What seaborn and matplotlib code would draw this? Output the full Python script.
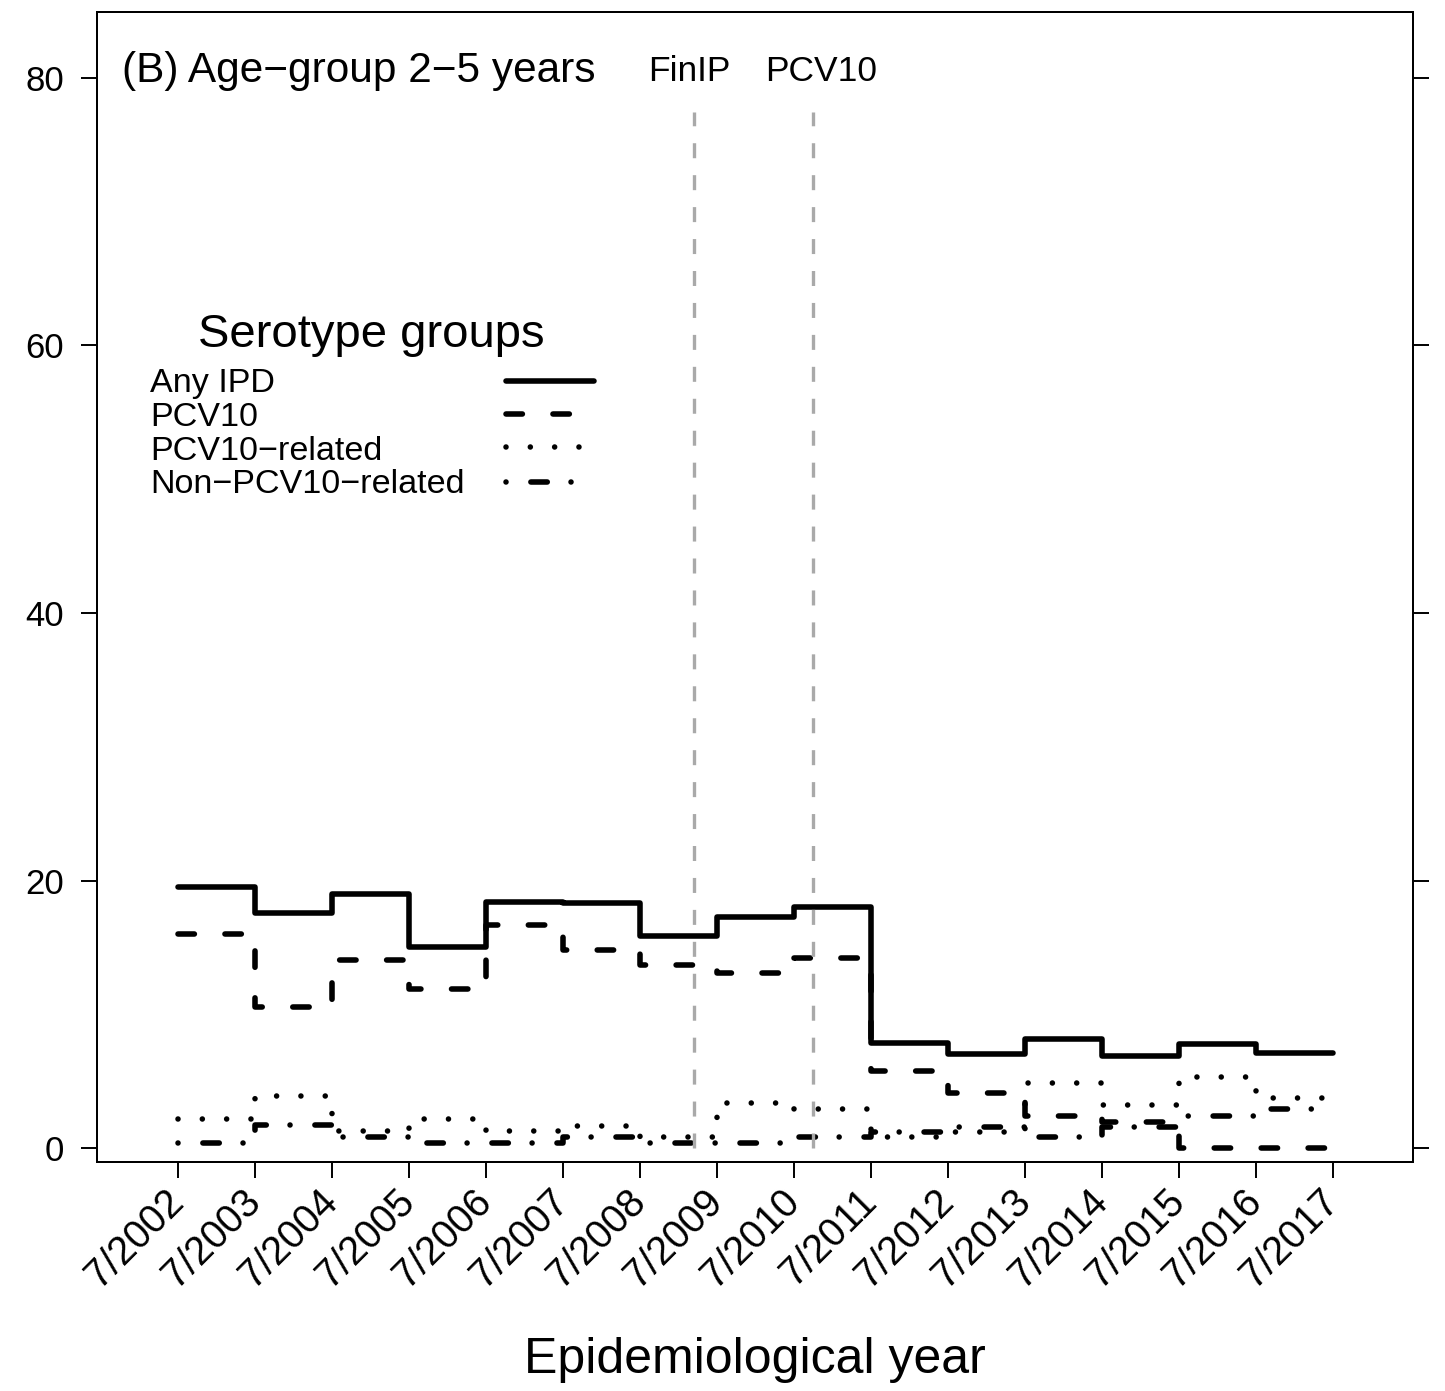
import matplotlib
matplotlib.use("Agg")
import matplotlib.pyplot as plt
import pandas as pd
import seaborn as sns

# Epidemiological seasons (July-June), labelled by starting year
epi_years = [2002, 2003, 2004, 2005, 2006, 2007, 2008, 2009,
             2010, 2011, 2012, 2013, 2014, 2015, 2016]

# Incidence per serotype group, one level per season
any_ipd = [19.50, 17.55, 18.97, 15.01, 18.42, 18.30, 15.86, 17.30,
           18.05, 7.84, 7.01, 8.16, 6.92, 7.81, 7.10]
pcv10 = [16.01, 10.53, 14.09, 11.92, 16.68, 14.79, 13.67, 13.12,
         14.24, 5.80, 4.11, 2.44, 1.99, 0.00, 0.00]
pcv10_related = [2.19, 3.93, 1.31, 2.19, 1.31, 1.69, 0.87, 3.36,
                 2.94, 0.82, 1.24, 4.90, 3.23, 5.33, 3.73]
non_pcv10_related = [0.42, 1.74, 0.87, 0.42, 0.42, 0.87, 0.42, 0.37,
                     0.87, 1.24, 1.61, 0.84, 1.61, 2.44, 2.91]

group_names = ["Any IPD", "PCV10", "PCV10\u2212related", "Non\u2212PCV10\u2212related"]
tick_labels = ["7/2002", "7/2003", "7/2004", "7/2005", "7/2006", "7/2007",
               "7/2008", "7/2009", "7/2010", "7/2011", "7/2012", "7/2013",
               "7/2014", "7/2015", "7/2016", "7/2017"]
y_ticks = [0, 20, 40, 60, 80]

# Intervention start dates (decimal years)
finip_start = 2009.20
pcv10_start = 2010.75

sns.set_theme(style="ticks")
plt.rcParams["font.family"] = ["Liberation Sans", "DejaVu Sans"]
plt.rcParams["lines.scale_dashes"] = False
plt.rcParams["axes.unicode_minus"] = True
plt.rcParams["text.color"] = "black"
plt.rcParams["axes.labelcolor"] = "black"
plt.rcParams["xtick.color"] = "black"
plt.rcParams["ytick.color"] = "black"

# Long table; each season's level starts in July and the final level is
# carried to the end of the last season.
rows = []
for name, vals in zip(group_names, [any_ipd, pcv10, pcv10_related, non_pcv10_related]):
    starts = epi_years + [epi_years[-1] + 1]
    levels = vals + [vals[-1]]
    for yr, v in zip(starts, levels):
        rows.append({"season": yr + 0.5, "incidence": v, "group": name})
df = pd.DataFrame(rows)

line_styles = {
    "Any IPD": "",
    "PCV10": (11.8, 22.0),
    "PCV10\u2212related": (0.01, 17.5),
    "Non\u2212PCV10\u2212related": (0.01, 17.9, 11.8, 17.1),
}
LW = 4.0

fig = plt.figure(figsize=(14.45, 13.91), dpi=100)
ax = fig.add_axes([0.0669, 0.1649, 0.9781 - 0.0669, 0.99137 - 0.1649])
ax.set_facecolor("white")

sns.lineplot(data=df, x="season", y="incidence", style="group",
             style_order=group_names, dashes=line_styles, color="black",
             linewidth=LW, drawstyle="steps-post", estimator=None,
             dash_capstyle="round", solid_capstyle="round",
             legend=False, ax=ax)

# Intervention markers
ax.vlines([finip_start, pcv10_start], ymin=0, ymax=77.4, colors="#A9A9A9",
          linewidth=2.4, linestyles=[(0, (10.8, 12.2))])
ax.text(2009.147, 79.72, "FinIP", fontsize=25.5, ha="center", va="baseline")
ax.text(2010.861, 79.72, "PCV10", fontsize=25.5, ha="center", va="baseline")

# Panel title
ax.text(2001.777, 79.65, "(B) Age\u2212group 2\u22125 years", fontsize=30.5,
        ha="left", va="baseline")

# Legend: labels on the left, line samples in a column to the right
ax.text(2005.017, 59.85, "Serotype groups", fontsize=34, ha="center", va="baseline")
label_baselines = [56.49, 53.95, 51.45, 48.95]
sample_levels = [57.31, 54.83, 52.41, 49.79]
for name, yb, yl in zip(group_names, label_baselines, sample_levels):
    ax.text(2002.14, yb, name, fontsize=24.6, ha="left", va="baseline")
    spec = line_styles[name]
    ls = "-" if spec == "" else (0, spec)
    ax.plot([2006.76, 2007.91], [yl, yl], color="black", linewidth=LW,
            linestyle=ls, dash_capstyle="round", solid_capstyle="round")

# Axes
ax.set_xlim(2001.448, 2018.547)
ax.set_ylim(-1.0, 84.9)
ax.set_xticks([y + 0.5 for y in range(2002, 2018)])
ax.set_xticklabels(tick_labels, rotation=45, ha="right", va="center",
                   rotation_mode="anchor", fontsize=28.5)
ax.set_yticks(y_ticks)
ax.set_yticklabels([str(v) for v in y_ticks], fontsize=25)
ax.tick_params(axis="both", direction="out", length=11.5, width=1.4,
               color="black", labelcolor="black")
ax.tick_params(axis="y", right=True, labelright=False, pad=12)
ax.tick_params(axis="x", pad=13)
for sp in ax.spines.values():
    sp.set_visible(True)
    sp.set_linewidth(1.44)
    sp.set_color("black")
ax.grid(False)

ax.set_ylabel("")
ax.set_xlabel("Epidemiological year", fontsize=36)
ax.xaxis.label.set_va("baseline")
ax.xaxis.set_label_coords(0.5, -0.1838)

fig.savefig("out.png", dpi=100)
